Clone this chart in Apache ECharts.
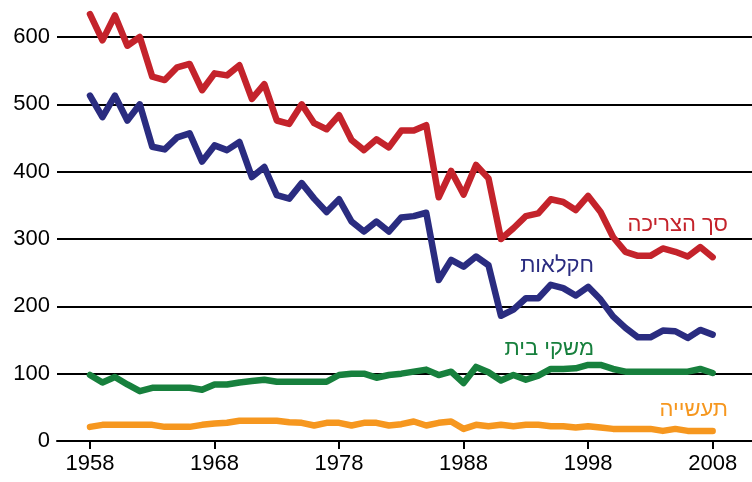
<!DOCTYPE html>
<html>
<head>
<meta charset="utf-8">
<script src="https://cdn.jsdelivr.net/npm/echarts@6/dist/echarts.min.js"></script>
<style>
  html, body { margin: 0; padding: 0; background: #fff; }
  #chart { width: 752px; height: 482px; }
</style>
</head>
<body>
<div id="chart"></div>
<script>
// שנים 1958-2008
const years = [];
for (let y = 1958; y <= 2008; y++) years.push(y);

const xTicks = [1958, 1968, 1978, 1988, 1998, 2008];
const yTicks = [0, 100, 200, 300, 400, 500, 600];

// סך הצריכה
const total = [634, 595, 632, 587, 600, 541, 536, 555, 560, 521,
  546, 543, 558, 508, 530, 476, 471, 500, 472, 463,
  484, 447, 432, 448, 436, 461, 461, 469, 362, 401,
  366, 410, 390, 300, 316, 334, 338, 359, 355, 343,
  364, 340, 303, 281, 275, 275, 286, 281, 274, 288, 273];

// חקלאות
const agriculture = [513, 481, 513, 476, 500, 437, 433, 451, 457, 415,
  439, 432, 444, 392, 407, 365, 360, 383, 360, 340,
  359, 326, 311, 326, 311, 332, 334, 339, 239, 269,
  259, 274, 261, 186, 195, 212, 212, 232, 227, 216,
  229, 210, 185, 168, 154, 154, 164, 163, 153, 165, 158];

// משקי בית
const households = [98, 87, 95, 84, 74, 79, 79, 79, 79, 76,
  84, 84, 87, 89, 91, 88, 88, 88, 88, 88,
  98, 100, 100, 94, 98, 100, 103, 106, 98, 103,
  86, 110, 102, 90, 98, 91, 97, 107, 107, 108,
  113, 113, 107, 103, 103, 103, 103, 103, 103, 107, 101];

// תעשייה
const industry = [21, 24, 24, 24, 24, 24, 21, 21, 21, 24,
  26, 27, 30, 30, 30, 30, 28, 27, 23, 27,
  27, 23, 27, 27, 23, 25, 29, 23, 27, 29,
  18, 24, 22, 24, 22, 24, 24, 22, 22, 20,
  22, 20, 18, 18, 18, 18, 15, 18, 15, 15, 15];

const seriesNames = ['סך הצריכה', 'חקלאות', 'משקי בית', 'תעשייה'];
const colors = ['#c4232b', '#2a2c80', '#17803d', '#f6971f'];

const font = '"Liberation Sans", Arial, "DejaVu Sans", sans-serif';

const pairs = (arr) => arr.map((v, i) => [years[i], v]);

const chart = echarts.init(document.getElementById('chart'));

const lineSeries = (name, data, color) => ({
  name,
  type: 'line',
  data: pairs(data),
  showSymbol: false,
  clip: false,
  lineStyle: { color, width: 6.5, join: 'round', cap: 'round' },
  emphasis: { disabled: true },
});

chart.setOption({
  animation: false,
  grid: { left: 57, right: 0, top: 37, bottom: 41 },
  xAxis: {
    type: 'value',
    min: 1955.35,
    max: 2011.16,
    axisLine: { show: true, onZero: false, lineStyle: { color: '#000', width: 2 } },
    axisTick: { show: true, length: 8, customValues: xTicks, lineStyle: { color: '#000', width: 2 } },
    axisLabel: {
      customValues: xTicks,
      formatter: (v) => String(v),
      color: '#000',
      fontSize: 22,
      fontFamily: font,
      margin: 12,
    },
    splitLine: { show: false },
  },
  yAxis: {
    type: 'value',
    min: 0,
    max: 600,
    interval: 100,
    axisLine: { show: false },
    axisTick: { show: false },
    axisLabel: {
      customValues: yTicks,
      color: '#000',
      fontSize: 22,
      fontFamily: font,
      margin: 7,
    },
    splitLine: { show: true, lineStyle: { color: '#000', width: 2 } },
  },
  series: [
    lineSeries(seriesNames[3], industry, colors[3]),
    lineSeries(seriesNames[2], households, colors[2]),
    lineSeries(seriesNames[1], agriculture, colors[1]),
    lineSeries(seriesNames[0], total, colors[0]),
  ],
  graphic: [
    { type: 'text', x: 728, y: 225, style: { text: seriesNames[0], fill: colors[0], font: '22px ' + font, align: 'right', verticalAlign: 'middle' } },
    { type: 'text', x: 594, y: 266, style: { text: seriesNames[1], fill: colors[1], font: '22px ' + font, align: 'right', verticalAlign: 'middle' } },
    { type: 'text', x: 594, y: 349, style: { text: seriesNames[2], fill: colors[2], font: '22px ' + font, align: 'right', verticalAlign: 'middle' } },
    { type: 'text', x: 728, y: 410, style: { text: seriesNames[3], fill: colors[3], font: '22px ' + font, align: 'right', verticalAlign: 'middle' } },
  ],
});
</script>
</body>
</html>
